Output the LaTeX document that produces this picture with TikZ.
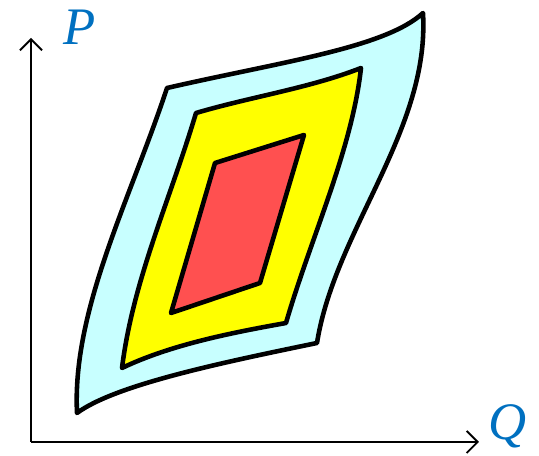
\documentclass[tikz,border=0pt]{standalone}
\usepackage{fontspec}
\setmainfont{Liberation Serif}
\usetikzlibrary{arrows.meta}
\definecolor{lcyan}{HTML}{C8FFFF}
\definecolor{lyellow}{HTML}{FFFF00}
\definecolor{lred}{HTML}{FF5050}
\definecolor{lblue}{HTML}{0070C0}

\begin{document}
\begin{tikzpicture}[x=0.02cm, y=-0.02cm,
    region/.style={draw=black, line width=2.6pt, line join=round},
    axis/.style={line width=1.1pt, -{Straight Barb[length=0.22cm, width=0.44cm, line width=1.1pt]}},
    lab/.style={text=lblue, font=\fontsize{30}{31}\selectfont\itshape, inner sep=0pt}]
  \useasboundingbox (0,0) rectangle (539,456);
  \coordinate (o) at (31,442);
  \node[lab] (p) at (80,27) {P};
  \node[lab] (q) at (508,426) {Q};
  \coordinate (pend) at (31,38);
  \coordinate (qend) at (479,442);
  % outer region
  \filldraw[region, fill=lcyan] (167,88) .. controls (280,62) and (385,48) .. (423,13)
    .. controls (430,130) and (335,230) .. (317,343)
    .. controls (220,363) and (115,385) .. (77,413)
    .. controls (72,310) and (130,200) .. cycle;
  % middle region
  \filldraw[region, fill=lyellow] (196,113) .. controls (250,97) and (310,88) .. (361,68)
    .. controls (352,150) and (310,240) .. (286,323)
    .. controls (230,333) and (170,345) .. (122,368)
    .. controls (133,280) and (170,200) .. cycle;
  % inner region
  \filldraw[region, fill=lred] (215,163) -- (304,135) -- (260,283) -- (171,313) -- cycle;
  % axes
  \draw[axis] (o) -- (pend);
  \draw[axis] (o) -- (qend);
\end{tikzpicture}
\end{document}
